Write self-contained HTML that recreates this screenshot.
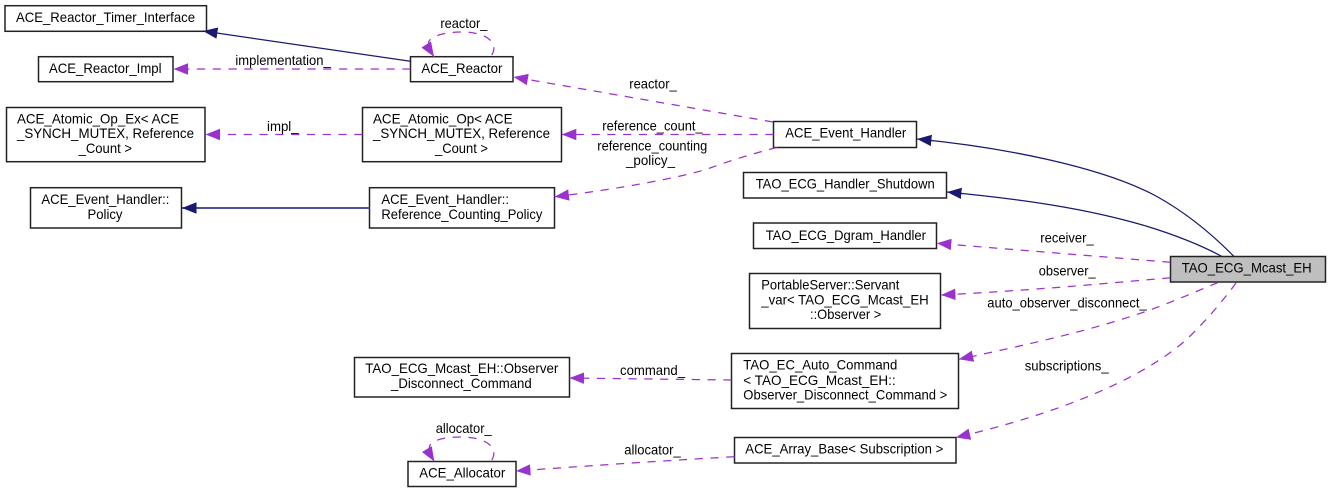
<!DOCTYPE html>
<html><head><meta charset="utf-8"><style>
html,body{margin:0;padding:0;background:#fff;width:1331px;height:493px;overflow:hidden}
svg{display:block}
text{font-family:"Liberation Sans",sans-serif;font-size:13.6px;fill:#000}
rect{fill:#fff;stroke:#222;stroke-width:1.5}
.n{fill:none;stroke:#191970;stroke-width:1.25}
.p{fill:none;stroke:#9a32cd;stroke-width:1.25;stroke-dasharray:8.2,7.6}
</style></head><body>
<svg width="1331" height="493" viewBox="0 0 1331 493" xmlns="http://www.w3.org/2000/svg">
<defs>
<marker id="an" markerUnits="userSpaceOnUse" markerWidth="16" markerHeight="13" refX="14.5" refY="6" orient="auto"><path d="M0,0.3L14.5,6L0,11.7Z" fill="#191970"/></marker>
<marker id="ap" markerUnits="userSpaceOnUse" markerWidth="16" markerHeight="13" refX="14.5" refY="6" orient="auto"><path d="M0,0.3L14.5,6L0,11.7Z" fill="#9a32cd"/></marker>
</defs>
<!-- boxes -->
<rect x="5" y="5.7" width="201.5" height="25.6"/>
<rect x="38.5" y="56.7" width="134.5" height="25"/>
<rect x="410.5" y="56.7" width="102.5" height="25"/>
<rect x="6.5" y="107.5" width="198.5" height="54.2"/>
<rect x="362.5" y="107.5" width="199" height="54.2"/>
<rect x="30.5" y="187.7" width="151" height="40.3"/>
<rect x="369.5" y="187.7" width="185" height="40.3"/>
<rect x="773.5" y="121.5" width="143" height="26"/>
<rect x="743.5" y="172.5" width="203" height="25.5"/>
<rect x="753.5" y="223" width="183" height="25.5"/>
<rect x="1170.5" y="256.5" width="155" height="25.5" style="fill:#bfbfbf"/>
<rect x="749.5" y="273.5" width="191" height="55"/>
<rect x="731.5" y="353.5" width="227" height="55"/>
<rect x="734.5" y="437.5" width="221.5" height="25.5"/>
<rect x="354.5" y="357.5" width="215" height="39.5"/>
<rect x="408" y="461.5" width="108" height="25"/>
<!-- edges -->
<path class="n" d="M410.5,61.3L203,31" marker-end="url(#an)"/>
<path class="p" d="M491.7,55C499,44 488,32 461.7,32C446,32 434,35 429,41C427,46 431,52 434,56.7" marker-end="url(#ap)"/>
<path class="p" d="M410.5,69L173.5,69" marker-end="url(#ap)"/>
<path class="p" d="M362.5,134.5L205.5,134.5" marker-end="url(#ap)"/>
<path d="M369.5,208L182,208" marker-end="url(#an)" fill="none" stroke="#5050a0" stroke-width="1.9"/>
<path class="p" d="M773,122L513.5,77" marker-end="url(#ap)"/>
<path class="p" d="M773.5,134.5L561.8,134.5" marker-end="url(#ap)"/>
<path class="p" d="M777,147.5C755,153 732,160 710,168C688,176 620,189 554.5,196.7" marker-end="url(#ap)"/>
<path class="n" d="M1234,256.5C1210,232 1185,212 1156,196C1100,166 1000,147 917,139" marker-end="url(#an)"/>
<path class="n" d="M1222,256.5C1197,243 1172,234 1146,226C1085,208 1020,199 947,192" marker-end="url(#an)"/>
<path class="p" d="M1170.5,262.3L936.8,243.3" marker-end="url(#ap)"/>
<path class="p" d="M1170.5,277.7C1090,285 1020,291 941,295" marker-end="url(#ap)"/>
<path class="p" d="M1218,282.5C1195,292 1172,302 1150,310C1090,331 1030,344 958.8,359.3" marker-end="url(#ap)"/>
<path class="p" d="M1236,283C1222,302 1205,322 1186,340C1140,380 1060,413 955.8,437.5" marker-end="url(#ap)"/>
<path class="p" d="M731.5,380L569.5,378" marker-end="url(#ap)"/>
<path class="p" d="M734.5,456.7C660,461 600,465 516,471" marker-end="url(#ap)"/>
<path class="p" d="M491.7,460C499,449 488,437 461,437C446,437 435,439 430,445C428,450 431,456 434.3,461.5" marker-end="url(#ap)"/>
<!-- labels -->
<text x="16" y="22" textLength="179" lengthAdjust="spacingAndGlyphs">ACE_Reactor_Timer_Interface</text>
<text x="49" y="73" textLength="112.5" lengthAdjust="spacingAndGlyphs">ACE_Reactor_Impl</text>
<text x="421.4" y="73" textLength="81" lengthAdjust="spacingAndGlyphs">ACE_Reactor</text>
<text x="235.4" y="65" textLength="95.3" lengthAdjust="spacingAndGlyphs">implementation_</text>
<text x="440.4" y="28" textLength="47" lengthAdjust="spacingAndGlyphs">reactor_</text>
<text x="17" y="123.5" textLength="162" lengthAdjust="spacingAndGlyphs">ACE_Atomic_Op_Ex&lt; ACE</text>
<text x="17" y="138" textLength="177" lengthAdjust="spacingAndGlyphs">_SYNCH_MUTEX, Reference</text>
<text x="78.6" y="153" textLength="53.4" lengthAdjust="spacingAndGlyphs">_Count &gt;</text>
<text x="267" y="131" textLength="31.6" lengthAdjust="spacingAndGlyphs">impl_</text>
<text x="373" y="123.5" textLength="139.5" lengthAdjust="spacingAndGlyphs">ACE_Atomic_Op&lt; ACE</text>
<text x="373" y="138" textLength="177" lengthAdjust="spacingAndGlyphs">_SYNCH_MUTEX, Reference</text>
<text x="435" y="153" textLength="53" lengthAdjust="spacingAndGlyphs">_Count &gt;</text>
<text x="41.4" y="204" textLength="128" lengthAdjust="spacingAndGlyphs">ACE_Event_Handler::</text>
<text x="87.5" y="219" textLength="35" lengthAdjust="spacingAndGlyphs">Policy</text>
<text x="381.4" y="204" textLength="127.6" lengthAdjust="spacingAndGlyphs">ACE_Event_Handler::</text>
<text x="381.4" y="219" textLength="161" lengthAdjust="spacingAndGlyphs">Reference_Counting_Policy</text>
<text x="629.3" y="88.7" textLength="47.4" lengthAdjust="spacingAndGlyphs">reactor_</text>
<text x="602.3" y="130.7" textLength="100.4" lengthAdjust="spacingAndGlyphs">reference_count_</text>
<text x="597.3" y="150.7" textLength="110" lengthAdjust="spacingAndGlyphs">reference_counting</text>
<text x="626" y="165" textLength="49" lengthAdjust="spacingAndGlyphs">_policy_</text>
<text x="785.3" y="137.7" textLength="121" lengthAdjust="spacingAndGlyphs">ACE_Event_Handler</text>
<text x="755.7" y="188.7" textLength="179" lengthAdjust="spacingAndGlyphs">TAO_ECG_Handler_Shutdown</text>
<text x="765.7" y="240" textLength="160.3" lengthAdjust="spacingAndGlyphs">TAO_ECG_Dgram_Handler</text>
<text x="1040.3" y="242.7" textLength="53.4" lengthAdjust="spacingAndGlyphs">receiver_</text>
<text x="1038.7" y="275.7" textLength="57" lengthAdjust="spacingAndGlyphs">observer_</text>
<text x="1181.7" y="272.7" textLength="130" lengthAdjust="spacingAndGlyphs">TAO_ECG_Mcast_EH</text>
<text x="987.3" y="307.7" textLength="159.4" lengthAdjust="spacingAndGlyphs">auto_observer_disconnect_</text>
<text x="1024.7" y="370.7" textLength="84" lengthAdjust="spacingAndGlyphs">subscriptions_</text>
<text x="761.3" y="289.7" textLength="138" lengthAdjust="spacingAndGlyphs">PortableServer::Servant</text>
<text x="761.3" y="304.7" textLength="167.4" lengthAdjust="spacingAndGlyphs">_var&lt; TAO_ECG_Mcast_EH</text>
<text x="810" y="319" textLength="71.3" lengthAdjust="spacingAndGlyphs">::Observer &gt;</text>
<text x="743.3" y="369.7" textLength="154" lengthAdjust="spacingAndGlyphs">TAO_EC_Auto_Command</text>
<text x="743.3" y="385" textLength="152.4" lengthAdjust="spacingAndGlyphs">&lt; TAO_ECG_Mcast_EH::</text>
<text x="743.3" y="399.5" textLength="204" lengthAdjust="spacingAndGlyphs">Observer_Disconnect_Command &gt;</text>
<text x="745.3" y="453.7" textLength="198" lengthAdjust="spacingAndGlyphs">ACE_Array_Base&lt; Subscription &gt;</text>
<text x="365.3" y="373" textLength="193" lengthAdjust="spacingAndGlyphs">TAO_ECG_Mcast_EH::Observer</text>
<text x="391" y="388" textLength="140.7" lengthAdjust="spacingAndGlyphs">_Disconnect_Command</text>
<text x="620" y="375" textLength="65" lengthAdjust="spacingAndGlyphs">command_</text>
<text x="435.7" y="433" textLength="56" lengthAdjust="spacingAndGlyphs">allocator_</text>
<text x="624.3" y="454.7" textLength="56.4" lengthAdjust="spacingAndGlyphs">allocator_</text>
<text x="419.3" y="477.7" textLength="86" lengthAdjust="spacingAndGlyphs">ACE_Allocator</text>
</svg>
</body></html>
